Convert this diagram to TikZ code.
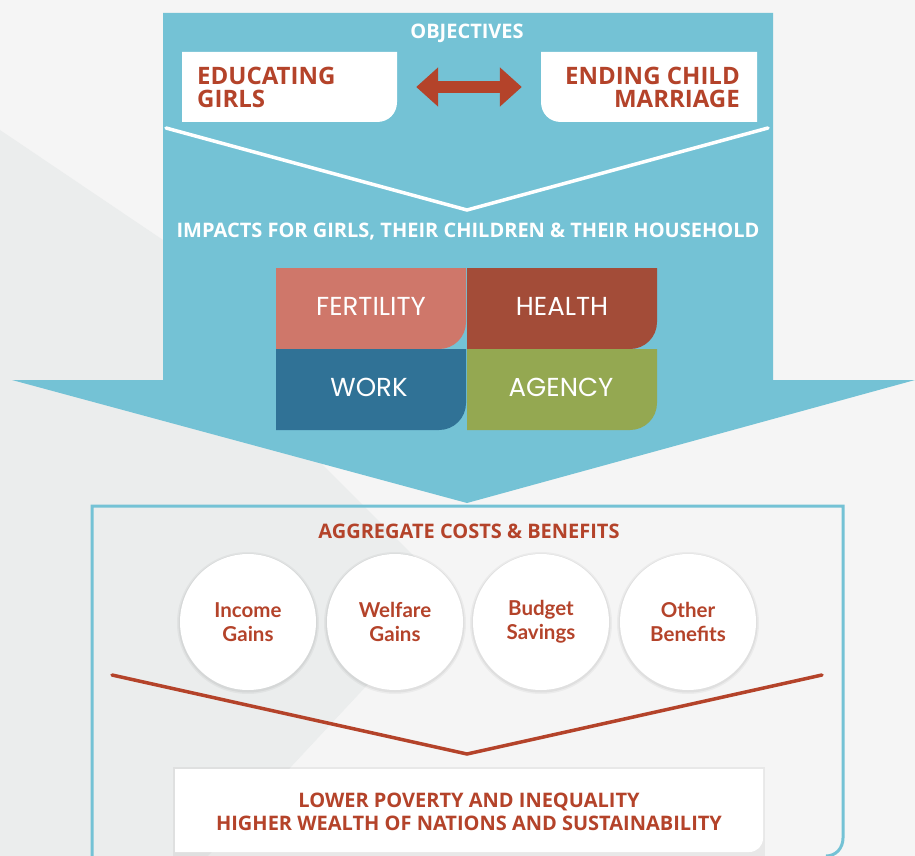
\documentclass[tikz,border=0pt]{standalone}
\usepackage{fontspec}
\usetikzlibrary{arrows.meta}
\newfontfamily\hfont{Open Sans}
\newfontfamily\qfont{Poppins}
\newfontfamily\cfont{Lato}
\definecolor{bgl}{HTML}{F5F5F5}
\definecolor{bgd}{HTML}{EBEDED}
\definecolor{tblue}{HTML}{74C2D5}
\definecolor{rust}{HTML}{B4432A}
\definecolor{cfert}{HTML}{CF776A}
\definecolor{chealth}{HTML}{A34C38}
\definecolor{cwork}{HTML}{307296}
\definecolor{cagency}{HTML}{94A851}
\newcommand\qshape[3]{%
  \fill[#3] (#1,#2) -- ({#1+190},#2) -- ({#1+190},{#2+54})
    .. controls ({#1+190},{#2+69}) and ({#1+178},{#2+81}) .. ({#1+163},{#2+81})
    -- (#1,{#2+81}) -- cycle;}
\begin{document}
\begin{tikzpicture}[x=1pt,y=-1pt,
  hdr/.style={font=\hfont\bfseries\fontsize{20}{20}\selectfont, text=white, inner sep=0pt},
  objtxt/.style={font=\hfont\bfseries\fontsize{24}{23}\selectfont, text=rust, inner sep=0pt},
  aggtxt/.style={font=\hfont\bfseries\fontsize{20}{23}\selectfont, text=rust, inner sep=0pt, align=center},
  quadtxt/.style={font=\qfont\fontsize{26}{26}\selectfont, text=white, inner sep=0pt},
  gaintxt/.style={circle, fill=white, minimum size=136pt, inner sep=0pt, align=center,
     font=\cfont\bfseries\fontsize{20.5}{24}\selectfont, text=rust},
  area/.style={inner sep=0pt, draw=none}]
\useasboundingbox (0,0) rectangle (915,856);
% background
\fill[bgl] (0,0) rectangle (915,856);
\fill[bgd] (0,130) -- (163,240) -- (323,465) -- (452,594) -- (208,856) -- (0,856) -- cycle;
% big blue arrow
\fill[tblue] (163,13) -- (773,13) -- (773,380) -- (915,380) -- (467,503) -- (12,380) -- (163,380) -- cycle;
% headers
\node[hdr] (obj) at (467,33) {OBJECTIVES};
% objective boxes
\fill[white] (182,52) -- (397,52) -- (397,102) .. controls (397,113) and (389,122) .. (377,122) -- (182,122) -- cycle;
\fill[white] (541,52) -- (757,52) -- (757,122) -- (561,122) .. controls (549,122) and (541,113) .. (541,102) -- cycle;
\node[area, minimum width=215pt, minimum height=70pt] (edu) at (289.5,87) {};
\node[area, minimum width=216pt, minimum height=70pt] (ecm) at (649,87) {};
\node[objtxt, anchor=west, align=left] (edut) at (197,87) {EDUCATING\\GIRLS};
\node[objtxt, anchor=east, align=right] (ecmt) at (740,87) {ENDING CHILD\\MARRIAGE};
\draw[rust, line width=12pt, {Triangle[length=22pt,width=38pt]}-{Triangle[length=22pt,width=38pt]},
  shorten <=19pt, shorten >=19pt] (edu.east) -- (ecm.west);
% white V
\coordinate (wvl) at (166,128);
\coordinate (wvm) at (467,210);
\coordinate (wvr) at (768,128);
\draw[white, line width=3.5pt, line cap=round] (wvl) -- (wvm) -- (wvr);
\node[hdr] (imp) at (468,232) {IMPACTS FOR GIRLS, THEIR CHILDREN \& THEIR HOUSEHOLD};
% quadrants
\qshape{276}{268}{cfert}
\qshape{467}{268}{chealth}
\qshape{276}{349}{cwork}
\qshape{467}{349}{cagency}
\node[quadtxt] (fert) at (371,306) {FERTILITY};
\node[quadtxt] (heal) at (562,306) {HEALTH};
\node[quadtxt] (work) at (369,387) {WORK};
\node[quadtxt] (agen) at (561,387) {AGENCY};
% lower outlined box
\draw[tblue, line width=3pt] (92,860) -- (92,506) -- (843,506) -- (843,838)
   .. controls (843,848) and (836,856) .. (826,856);
\node[aggtxt] (agg) at (469,531) {AGGREGATE COSTS \& BENEFITS};
% circles
\foreach \cx/\nm in {248/inc,395/wel,541/bud,688/oth}{
  \fill[black, opacity=0.04] (\cx,623) circle (71);
  \fill[black, opacity=0.05] (\cx,623) circle (69.5);
}
\node[gaintxt] (inc) at (248,622) {Income\\Gains};
\node[gaintxt] (wel) at (395,622) {Welfare\\Gains};
\node[gaintxt] (bud) at (541,622) {Budget\\Savings};
\node[gaintxt] (oth) at (688,622) {Other\\Benefits};
% red V
\coordinate (rvl) at (112,675);
\coordinate (rvm) at (467,754);
\coordinate (rvr) at (822,675);
\draw[rust, line width=3.5pt, line cap=round] (rvl) -- (rvm) -- (rvr);
% bottom box
\fill[black, opacity=0.05] (173,767) rectangle (765,856);
\fill[white] (175,769) -- (763,769) -- (763,838) .. controls (763,846) and (757,852) .. (749,852) -- (175,852) -- cycle;
\node[aggtxt] (res) at (469,812) {LOWER POVERTY AND INEQUALITY\\HIGHER WEALTH OF NATIONS AND SUSTAINABILITY};
\end{tikzpicture}
\end{document}
